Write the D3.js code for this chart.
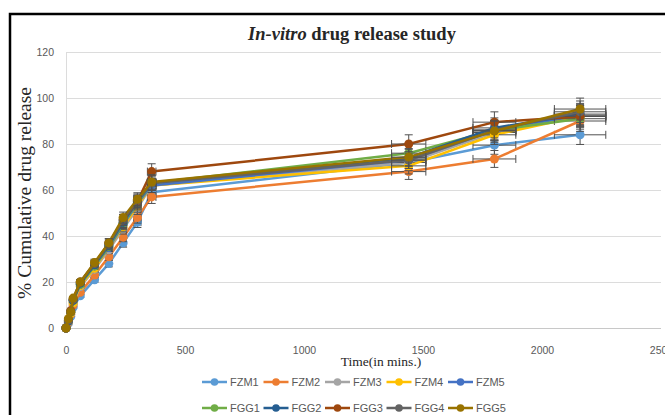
<!DOCTYPE html>
<html>
<head>
<meta charset="utf-8">
<script src="https://cdn.jsdelivr.net/npm/d3@7"></script>
<style>
html,body{margin:0;padding:0;background:#fff;}
svg{display:block;}
</style>
</head>
<body>
<svg id="chart" width="665" height="415"></svg>
<script>
const times = [0, 10, 20, 30, 60, 120, 180, 240, 300, 360, 1440, 1800, 2160];
const seriesNames = ["FZM1","FZM2","FZM3","FZM4","FZM5","FGG1","FGG2","FGG3","FGG4","FGG5"];
const seriesColors = ["#5B9BD5","#ED7D31","#A5A5A5","#FFC000","#4472C4","#70AD47","#255E91","#9E480E","#636363","#997300"];
const FZM1 = [0, 2, 5, 9, 14, 21, 28, 37, 46, 59, 72, 79.5, 84];
const FZM2 = [0, 2.5, 6, 10, 15.5, 23, 31, 39.5, 48, 57, 68, 73.5, 90];
const FZM3 = [0, 3, 6.5, 11, 18, 25.5, 34, 43, 52, 62, 72, 85, 92];
const FZM4 = [0, 3, 6.5, 11, 18.5, 26, 35, 44, 53, 62, 70.5, 84, 92];
const FZM5 = [0, 3, 7, 12, 19, 27, 35, 45, 54, 62, 73, 86, 92.5];
const FGG1 = [0, 3, 7, 12, 19, 27, 35.5, 45.5, 54.5, 63, 76, 86, 91];
const FGG2 = [0, 3, 7, 12, 19.5, 27.5, 36, 46, 55, 63, 74, 87, 93];
const FGG3 = [0, 3.5, 7.5, 12.5, 20, 28, 37, 47, 55, 68, 80, 89.5, 92];
const FGG4 = [0, 3.5, 7, 12.5, 20, 28, 36.5, 47, 55.5, 63, 73, 86, 94];
const FGG5 = [0, 4, 7, 13, 20, 28.5, 37, 48, 56, 63.5, 74.3, 85.6, 95.2];
const seriesValues = [FZM1, FZM2, FZM3, FZM4, FZM5, FGG1, FGG2, FGG3, FGG4, FGG5];
const xTicks = [0, 500, 1000, 1500, 2000, 2500];
const yTicks = [0, 20, 40, 60, 80, 100, 120];
const errorPct = 0.05;

const svg = d3.select("#chart");
svg.append("rect").attr("width",665).attr("height",415).attr("fill","#fff");
// outer frame
svg.append("rect").attr("x",10).attr("y",14).attr("width",720).attr("height",500)
  .attr("fill","none").attr("stroke","#000").attr("stroke-width",2.5);

const x = d3.scaleLinear().domain([0,2500]).range([66,661]);
const y = d3.scaleLinear().domain([0,120]).range([328,52]);

// gridlines
svg.append("g").selectAll("line").data(yTicks).join("line")
  .attr("x1",66).attr("x2",661).attr("y1",d=>y(d)+0.5).attr("y2",d=>y(d)+0.5)
  .attr("stroke",d=>d===0?"#c8c8c8":"#dcdcdc").attr("stroke-width",1);
svg.append("line").attr("x1",66.5).attr("x2",66.5).attr("y1",52).attr("y2",328)
  .attr("stroke","#dcdcdc");

// axes via d3 axis (labels only)
const yAxis = svg.append("g").attr("transform","translate(54,0)")
  .call(d3.axisLeft(y).tickValues(yTicks).tickSize(0).tickPadding(0));
yAxis.select(".domain").remove();
yAxis.selectAll("text").attr("font-family","Liberation Sans, Arial, sans-serif")
  .attr("font-size",10.5).attr("fill","#595959");

const xAxis = svg.append("g").attr("transform","translate(0,347)")
  .call(d3.axisBottom(x).tickValues(xTicks).tickSize(0).tickPadding(0).tickFormat(d3.format("d")));
xAxis.select(".domain").remove();
xAxis.selectAll("text").attr("font-family","Liberation Sans, Arial, sans-serif")
  .attr("font-size",10.5).attr("fill","#595959");

// title
const title = svg.append("text").attr("x",352).attr("y",40).attr("text-anchor","middle")
  .attr("font-family","Liberation Serif, Times New Roman, serif").attr("font-size",18.5)
  .attr("fill","#262626");
title.append("tspan").attr("font-style","italic").attr("font-weight","bold").text("In-vitro");
title.append("tspan").attr("font-weight","bold").text(" drug release study");

// axis titles
svg.append("text").attr("transform","translate(31,193) rotate(-90)").attr("text-anchor","middle")
  .attr("font-family","Liberation Serif, Times New Roman, serif").attr("font-size",18)
  .attr("textLength",212).attr("lengthAdjust","spacingAndGlyphs")
  .attr("fill","#262626").text("% Cumulative drug release");
svg.append("text").attr("x",381).attr("y",366).attr("text-anchor","middle")
  .attr("font-family","Liberation Serif, Times New Roman, serif").attr("font-size",13.5)
  .attr("fill","#262626").text("Time(in mins.)");

// series
const line = d3.line().x(d=>x(d.t)).y(d=>y(d.v));
const errColor = "#505050";
seriesNames.forEach((name,i)=>{
  const pts = times.map((t,j)=>({t, v: seriesValues[i][j]}));
  const g = svg.append("g");
  g.append("path").datum(pts).attr("d",line).attr("fill","none")
    .attr("stroke",seriesColors[i]).attr("stroke-width",2.5).attr("stroke-linejoin","round");
  // error bars (5%)
  const eb = g.append("g").attr("stroke",errColor).attr("stroke-width",1);
  pts.forEach(p=>{
    if (p.t===0) return;
    const dx = p.t*errorPct, dy = p.v*errorPct;
    const cx = x(p.t), cy = y(p.v);
    eb.append("line").attr("x1",x(p.t-dx)).attr("x2",x(p.t+dx)).attr("y1",cy).attr("y2",cy);
    eb.append("line").attr("x1",x(p.t-dx)).attr("x2",x(p.t-dx)).attr("y1",cy-4).attr("y2",cy+4);
    eb.append("line").attr("x1",x(p.t+dx)).attr("x2",x(p.t+dx)).attr("y1",cy-4).attr("y2",cy+4);
    eb.append("line").attr("x1",cx).attr("x2",cx).attr("y1",y(p.v-dy)).attr("y2",y(p.v+dy));
    eb.append("line").attr("x1",cx-4).attr("x2",cx+4).attr("y1",y(p.v-dy)).attr("y2",y(p.v-dy));
    eb.append("line").attr("x1",cx-4).attr("x2",cx+4).attr("y1",y(p.v+dy)).attr("y2",y(p.v+dy));
  });
  g.selectAll("circle").data(pts).join("circle")
    .attr("cx",d=>x(d.t)).attr("cy",d=>y(d.v)).attr("r",4.5)
    .attr("fill",seriesColors[i]);
});

// legend
const legX = [202, 263.5, 325, 386.5, 448];
const legY = [382, 408];
seriesNames.forEach((name,i)=>{
  const lx = legX[i%5], ly = legY[Math.floor(i/5)];
  const g = svg.append("g");
  g.append("line").attr("x1",lx).attr("x2",lx+25).attr("y1",ly).attr("y2",ly)
    .attr("stroke",seriesColors[i]).attr("stroke-width",2.5);
  g.append("circle").attr("cx",lx+12.5).attr("cy",ly).attr("r",3.8).attr("fill",seriesColors[i]);
  g.append("text").attr("x",lx+28).attr("y",ly+4).attr("font-family","Liberation Sans, Arial, sans-serif")
    .attr("font-size",11).attr("fill","#595959").text(name);
});
</script>
</body>
</html>
